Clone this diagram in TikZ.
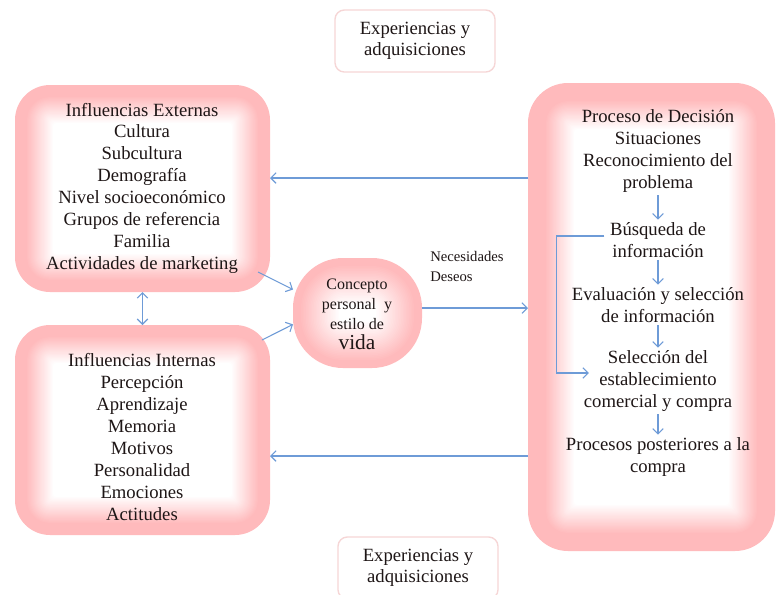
\documentclass[tikz,border=0pt]{standalone}
\usepackage{fontspec}
\setmainfont{Liberation Serif}
\usetikzlibrary{arrows.meta,calc,fit}
\definecolor{pinkc}{RGB}{255,186,188}
\definecolor{pinkb}{RGB}{246,214,214}
\definecolor{arrc}{RGB}{110,155,215}
\definecolor{txtc}{RGB}{30,22,22}
\newcommand{\myglow}[4]{%
  \pgfmathsetmacro\rzero{#2*0.75}%
  \fill[pinkc, rounded corners=\rzero pt] (#1.north west) rectangle (#1.south east);
  \foreach \k in {1,...,25}{%
    \pgfmathsetmacro\dd{#3+(\k-1)*#4/24}%
    \pgfmathtruncatemacro\cc{100-4*\k}%
    \pgfmathsetmacro\rr{max(#2-\dd,3)*0.75}%
    \fill[pinkc!\cc!white, rounded corners=\rr pt] ($(#1.north west)+(\dd,\dd)$) rectangle ($(#1.south east)-(\dd,\dd)$);
  }%
}
\begin{document}
\begin{tikzpicture}[x=0.75pt,y=-0.75pt,
  lbl/.style={font=\fontsize{14}{16.4}\selectfont, align=center, text=txtc, inner sep=2pt},
  smallbox/.style={draw=pinkb, line width=1pt, rounded corners=7pt, fill=white,
     minimum width=120pt, minimum height=46.5pt, align=center, text=txtc,
     font=\fontsize{14}{15.8}\selectfont},
  area/.style={inner sep=0pt, outer sep=0pt},
  arr/.style={draw=arrc, line width=0.8pt, -{Straight Barb[length=4pt,width=8pt]}},
  darr/.style={draw=arrc, line width=0.8pt, {Straight Barb[length=4pt,width=8pt]}-{Straight Barb[length=4pt,width=8pt]}}]
\useasboundingbox (0,0) rectangle (776,594);
\fill[white] (0,0) rectangle (776,594);

% areas
\coordinate (e1) at (15,85);   \coordinate (e2) at (270,292);
\coordinate (i1) at (15,325);  \coordinate (i2) at (270,535);
\coordinate (d1) at (528,83);  \coordinate (d2) at (775,551);
\coordinate (c1) at (293,258); \coordinate (c2) at (422,368);
\node[area, fit=(e1)(e2)] (ext) {};
\node[area, fit=(i1)(i2)] (int) {};
\node[area, fit=(d1)(d2)] (dec) {};
\node[area, fit=(c1)(c2)] (con) {};

\myglow{ext}{35}{12}{26}
\myglow{int}{35}{12}{26}
\myglow{dec}{40}{18}{28}
\myglow{con}{50}{8}{38}

% top and bottom boxes
\node[smallbox] (top) at (415,41) {Experiencias y\\adquisiciones};
\node[smallbox] (bot) at (418,568) {Experiencias y\\adquisiciones};

% texts
\node[lbl] (extT) at (142,188) {Influencias Externas\\Cultura\\Subcultura\\Demografía\\Nivel socioeconómico\\Grupos de referencia\\Familia\\Actividades de marketing};
\node[lbl] (intT) at (142,437) {Influencias Internas\\Percepción\\Aprendizaje\\Memoria\\Motivos\\Personalidad\\Emociones\\Actitudes};

\node[lbl] (P1) at (658,151) {Proceso de Decisión\\Situaciones\\Reconocimiento del\\problema};
\node[lbl] (P2) at (658,240) {Búsqueda de\\información};
\node[lbl] (P3) at (658,305) {Evaluación y selección\\de información};
\node[lbl] (P4) at (658,381) {Selección del\\establecimiento\\comercial y compra};
\node[lbl] (P5) at (658,457) {Procesos posteriores a la\\compra};

\node[lbl, font=\fontsize{12}{15}\selectfont] (conT) at (357,314) {Concepto\\personal~ y\\estilo de\\{\fontsize{16}{17}\selectfont vida}};

\node[anchor=north west, align=left, text=txtc, inner sep=0pt,
      font=\fontsize{11}{15}\selectfont] (nd) at (430,251) {Necesidades\\Deseos};

% connectors
\draw[arr] (dec.west |- 0,178) -- (ext.east |- 0,178);
\draw[arr] (dec.west |- 0,456) -- (int.east |- 0,456);
\draw[darr] (ext.south) -- (int.north);
\draw[arr] ($(ext.south east)+(-12,-20)$) -- (con.160);
\draw[arr] ($(int.north east)+(-8,15)$) -- (con.190);
\draw[arr] (con.east |- 0,308) -- (dec.west |- 0,308);

\draw[arr] (P1.south) -- (P2.north);
\draw[arr] (P2.south) -- (P3.north);
\draw[arr] (P3.south) -- (P4.north);
\draw[arr] (P4.south) -- (P5.north);
\draw[arr] ([xshift=-2pt,yshift=3pt]P2.west) -- ++(-48,0) |- ([yshift=6pt,xshift=6pt]P4.west);
\end{tikzpicture}
\end{document}
